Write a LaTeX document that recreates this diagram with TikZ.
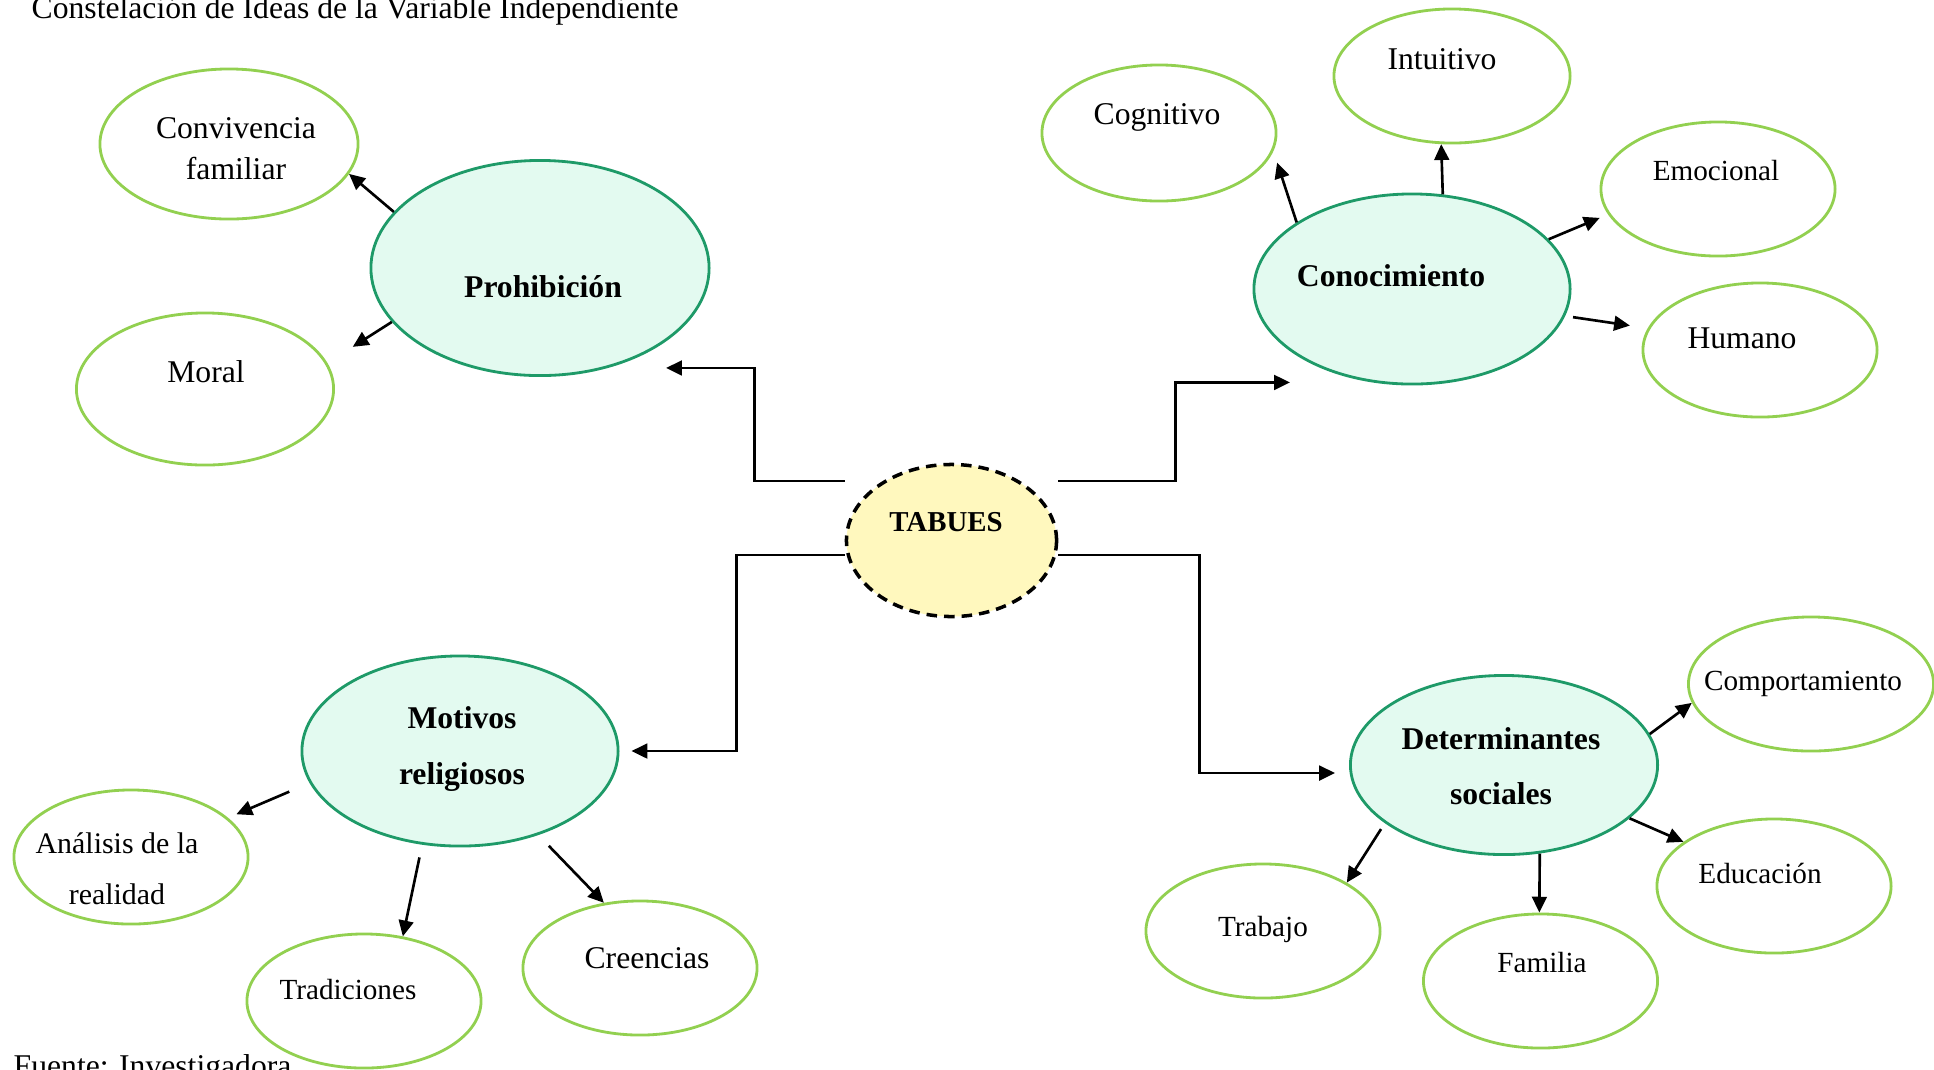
\documentclass[tikz,border=0pt]{standalone}
\usepackage{fontspec}
\setmainfont{Liberation Serif}
\usetikzlibrary{shapes.geometric,arrows.meta}
\definecolor{mainline}{HTML}{1E9A68}
\definecolor{mainfill}{HTML}{E3FAF0}
\definecolor{subline}{HTML}{92D050}
\definecolor{tabfill}{HTML}{FFF8BE}

\begin{document}
\begin{tikzpicture}[x=0.01cm,y=-0.01cm,
    big/.style={ellipse,draw=mainline,fill=mainfill,line width=0.8pt,inner sep=0pt,
        minimum width=3.16cm,minimum height=1.9cm},
    sub/.style={ellipse,draw=subline,line width=0.8pt,inner sep=0pt,
        minimum width=2.34cm,minimum height=1.34cm},
    txt/.style={inner sep=0pt,align=center,font=\fontsize{9}{11}\selectfont},
    txts/.style={inner sep=0pt,align=center,font=\fontsize{8.3}{10}\selectfont},
    hd/.style={inner sep=0pt,align=center,font=\fontsize{9}{15.8}\selectfont\bfseries},
    arr/.style={-{Triangle[length=4.5pt,width=4.2pt]},line width=0.75pt}]
    \useasboundingbox (0,0) rectangle (1934,1069);

    \node[anchor=base west,inner sep=0pt,font=\fontsize{9}{11}\selectfont] (tit) at (31,18.5)
        {Constelación de Ideas de la Variable Independiente};
    \node[anchor=base west,inner sep=0pt,font=\fontsize{9}{11}\selectfont] (src) at (13,1076)
        {Fuente: Investigadora};

    \node[ellipse,draw,fill=tabfill,line width=1pt,dash pattern=on 3pt off 2pt,inner sep=0pt,
        minimum width=2.1cm,minimum height=1.52cm] (tab) at (951.5,540.5) {};
    \node[big,minimum width=3.38cm,minimum height=2.15cm] (pro) at (540,268) {};
    \node[big] (con) at (1412,289) {};
    \node[big] (mot) at (460,751) {};
    \node[big,minimum width=3.07cm,minimum height=1.79cm] (det) at (1504,765) {};

    \node[sub,minimum width=2.58cm,minimum height=1.5cm] (conv) at (229,144) {};
    \node[sub,minimum width=2.57cm,minimum height=1.52cm] (mor) at (205,389) {};
    \node[sub,minimum height=1.36cm] (cog) at (1159,133) {};
    \node[sub,minimum width=2.36cm] (int) at (1452,76) {};
    \node[sub] (emo) at (1718,189) {};
    \node[sub] (hum) at (1760,350) {};
    \node[sub] (ana) at (131,857) {};
    \node[sub] (tra) at (364,1001) {};
    \node[sub] (cre) at (640,968) {};
    \node[sub,minimum width=2.45cm] (com) at (1811,684) {};
    \node[sub] (trb) at (1263,931) {};
    \node[sub] (fam) at (1540.5,981) {};
    \node[sub] (edu) at (1774,886) {};

    \node[inner sep=0pt,font=\fontsize{8.2}{10}\selectfont\bfseries] (tab-t) at (946,522) {TABUES};
    \node[hd] (pro-t) at (543,287) {Prohibición};
    \node[hd] (con-t) at (1391,276) {Conocimiento};
    \node[hd] (mot-t) at (462,749) {Motivos\\religiosos};
    \node[hd] (det-t) at (1501,766) {Determinantes\\sociales};

    \node[txt,font=\fontsize{9}{11.6}\selectfont] (conv-t) at (236,149) {Convivencia\\familiar};
    \node[txt] (mor-t) at (206,372) {Moral};
    \node[txt] (cog-t) at (1157,117) {Cognitivo};
    \node[txt] (int-t) at (1442,59) {Intuitivo};
    \node[txts] (emo-t) at (1716,171) {Emocional};
    \node[txt] (hum-t) at (1742,338) {Humano};
    \node[txts,font=\fontsize{8.5}{14.4}\selectfont] (ana-t) at (117,869) {Análisis de la\\realidad};
    \node[txts] (tra-t) at (348,989) {Tradiciones};
    \node[txt] (cre-t) at (647,958) {Creencias};
    \node[txts] (com-t) at (1803,684) {Comportamiento};
    \node[txts] (trb-t) at (1263,929) {Trabajo};
    \node[txts] (fam-t) at (1542,962) {Familia};
    \node[txts] (edu-t) at (1760,873) {Educación};

    \coordinate (tab-nw) at (tab.west |- 0,481);
    \coordinate (tab-sw) at (tab.west |- 0,555);
    \coordinate (tab-ne) at (tab.east |- 0,481);
    \coordinate (tab-se) at (tab.east |- 0,555);
    \coordinate (pro-in) at ([shift={(1.26cm,0.09cm)}]pro.south);
    \coordinate (con-in) at ([shift={(-1.22cm,0.03cm)}]con.south);
    \coordinate (mot-in) at ([xshift=0.12cm]mot.east);
    \coordinate (det-in) at ([shift={(-0.14cm,-0.08cm)}]det.west);

    \draw[arr] (tab-nw) -- ++(-90,0) |- (pro-in);
    \draw[arr] (tab-ne) -- ++(117,0) |- (con-in);
    \draw[arr] (tab-sw) -- ++(-108,0) |- (mot-in);
    \draw[arr] (tab-se) -- ++(141,0) |- (det-in);

    \draw[arr] (pro.159) -- (conv.-14);
    \draw[arr,shorten >=0.3cm] (pro.200) -- (mor.12);
    \draw[arr,shorten >=0.12cm] (con.150) -- (cog.-9);
    \draw[arr] (con.72) -- (int.261);
    \draw[arr,shorten >=0.09cm] (con.20) -- (emo.193);
    \draw[arr,shorten <=0.08cm,shorten >=0.18cm] (con.-10) -- (hum.169);
    \draw[arr,shorten <=0.22cm,shorten >=0.09cm] (mot.192) -- (ana.22);
    \draw[arr,shorten <=0.13cm] (mot.248) -- (tra.59);
    \draw[arr,shorten <=0.15cm] (mot.-47) -- (cre.119);
    \draw[arr] (det.12) -- (com.189);
    \draw[arr] (det.-23) -- (edu.154);
    \draw[arr,shorten <=0.07cm] (det.206) -- (trb.30);
    \draw[arr] (det.-68) -- (fam.91);
\end{tikzpicture}
\end{document}
